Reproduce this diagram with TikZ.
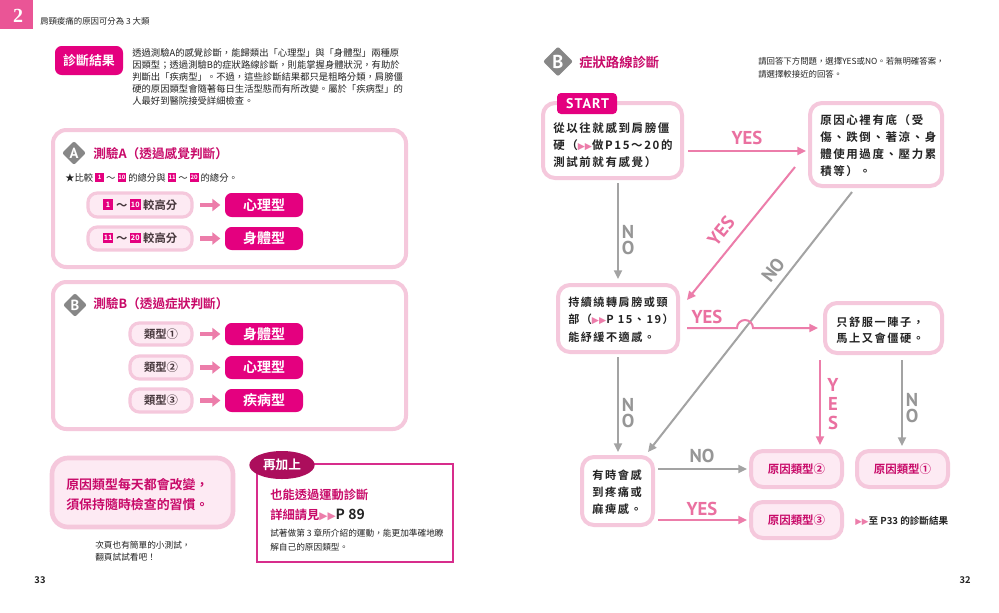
\documentclass[tikz,border=0pt]{standalone}
\usepackage{fontspec}
\usetikzlibrary{fit,calc,arrows.meta,shapes.geometric}
\IfFontExistsTF{Noto Sans CJK TC Bold}
 {\setmainfont{Noto Sans CJK TC}[BoldFont={Noto Sans CJK TC Bold}]
  \newfontfamily\flowfont{Noto Sans CJK TC}[BoldFont={Noto Sans CJK TC Bold},LetterSpace=14]}
 {\setmainfont{Noto Sans CJK TC}
  \newfontfamily\flowfont{Noto Sans CJK TC}[LetterSpace=14]}
\newfontfamily\ynfont{PT Sans}
\newfontfamily\startfont{PT Sans}[LetterSpace=8]
\newfontfamily\symfont{DejaVu Sans}
\newfontfamily\numfont{Liberation Serif}

\definecolor{mag}{RGB}{228,0,127}
\definecolor{tmag}{RGB}{200,10,105}
\definecolor{lpink}{RGB}{245,200,220}
\definecolor{pfill}{RGB}{253,234,243}
\definecolor{parrow}{RGB}{236,125,170}
\definecolor{ptext}{RGB}{234,112,160}
\definecolor{gline}{RGB}{163,163,163}
\definecolor{gtext}{RGB}{150,150,150}
\definecolor{hpink}{RGB}{234,85,150}
\definecolor{dmag}{RGB}{172,14,92}
\definecolor{bline}{RGB}{215,45,140}
\definecolor{dgray}{RGB}{135,135,135}
\definecolor{txt}{RGB}{35,35,35}
\definecolor{ptxt}{RGB}{70,55,60}

\newcommand\tri[1][7pt]{{\symfont\fontsize{#1}{#1}\selectfont\color{parrow}▶▶}}
\newcommand\nsq[3]{{\setlength\fboxsep{0pt}\raisebox{-0.06em}{\colorbox{mag}{\vbox to #1{\vss\hbox to #1{\hss\color{white}\bfseries\fontsize{#2}{#2}\selectfont #3\hss}\vss}}}}}

\tikzset{
 lbox/.style={draw=lpink, line width=3pt, rounded corners=10pt, fill=white, inner sep=0pt, outer sep=0pt},
 pill/.style={draw=lpink, line width=2.4pt, fill=pfill, rounded corners=7pt, inner sep=0pt, outer sep=0pt},
 pilltxt/.style={anchor=base, inner sep=0pt, font=\fontsize{8.5}{8.5}\selectfont\bfseries, text=ptxt},
 magbox/.style={fill=mag, rounded corners=5pt, inner sep=0pt, outer sep=0pt},
 magtxt/.style={anchor=base, inner sep=0pt, text=white, font=\fontsize{10.5}{10.5}\selectfont\bfseries},
 blk/.style={draw=parrow, line width=3.6pt, -{Triangle[length=6pt,width=9pt]}, shorten <=6pt, shorten >=3.5pt},
 icon/.style={diamond, fill=dgray, inner sep=0pt, rounded corners=1.5pt},
 icontxt/.style={anchor=base, inner sep=0pt, text=white, font=\ynfont\bfseries\fontsize{11}{11}\selectfont},
 fbox/.style={draw=lpink, line width=3pt, rounded corners=9pt, fill=white, inner sep=0pt, outer sep=0pt},
 rbox/.style={draw=lpink, line width=3pt, rounded corners=9pt, fill=pfill, inner sep=0pt, outer sep=0pt},
 rtxt/.style={anchor=base, inner sep=0pt, text=tmag, font=\fontsize{8.6}{8.6}\selectfont\bfseries},
 txtl/.style={anchor=base west, inner sep=0pt, align=left, text=txt},
 ya/.style={draw=parrow, line width=1.5pt, -{Triangle[length=6.5pt,width=6pt]}},
 na/.style={draw=gline, line width=1.5pt, -{Triangle[length=6.5pt,width=6pt]}},
 ylab/.style={text=ptext, font=\ynfont\bfseries\fontsize{14}{14}\selectfont, inner sep=0pt},
 nlab/.style={text=gtext, font=\ynfont\bfseries\fontsize{14}{14}\selectfont, inner sep=0pt},
 vlab/.style={align=center, font=\ynfont\bfseries\fontsize{14}{12}\selectfont, inner sep=0pt},
}

\begin{document}
\begin{tikzpicture}[x=0.75pt, y=-0.75pt]
\useasboundingbox (0,0) rectangle (999,612);
\fill[white] (0,0) rectangle (999,612);

% ---------- header ----------
\node[fill=hpink, fit={(0,0)(33,29)}, inner sep=0pt] (chap) {};
\node[text=white, inner sep=0pt, font=\numfont\bfseries\fontsize{15}{15}\selectfont] (chapnum) at (18,16) {2};
\node[txtl, font=\fontsize{6.3}{6.3}\selectfont] (hdr) at (40,24) {肩頸痠痛的原因可分為 3 大類};

% ---------- left page ----------
\node[magbox, fit={(55,46)(123,75)}] (diag) {};
\node[magtxt, font=\fontsize{9.7}{9.7}\selectfont\bfseries] (diagtxt) at (89,65.4) {診斷結果};
% multi-line text nodes: base anchor = baseline of the last line
\node[txtl, font=\fontsize{7}{9}\selectfont] (para) at (132,104) {透過測驗A的感覺診斷，能歸類出「心理型」與「身體型」兩種原\\因類型；透過測驗B的症狀路線診斷，則能掌握身體狀況，有助於\\判斷出「疾病型」。不過，這些診斷結果都只是粗略分類，肩膀僵\\硬的原因類型會隨著每日生活型態而有所改變。屬於「疾病型」的\\人最好到醫院接受詳細檢查。};

% box A
\node[lbox, fit={(53,130)(406,267)}] (boxA) {};
\node[icon, minimum size=18pt] (iconA) at (74,153) {};
\node[icontxt] (iconAtxt) at (74,158.5) {A};
\node[txtl, text=tmag, font=\fontsize{9.5}{9.5}\selectfont\bfseries] (titA) at (93,158.8) {測驗A（透過感覺判斷）};
\node[txtl, font=\fontsize{7}{7}\selectfont] (starA) at (65,181.5) {★比較 \nsq{6.5pt}{4.5}{1} ～ \nsq{6.5pt}{4.5}{10} 的總分與 \nsq{6.5pt}{4.5}{11} ～ \nsq{6.5pt}{4.5}{20} 的總分。};
\node[pill, fit={(88,193)(192,217)}] (pa1) {};
\node[pilltxt] (pa1txt) at (140,209.3) {\nsq{8pt}{5.5}{1} ～ \nsq{8pt}{5.5}{10} 較高分};
\node[magbox, fit={(225,193)(303,217)}] (ma1) {};
\node[magtxt] (ma1txt) at (264,210.3) {心理型};
\draw[blk] (pa1) -- (ma1);
\node[pill, fit={(88,227)(192,250)}] (pa2) {};
\node[pilltxt] (pa2txt) at (140,242.8) {\nsq{8pt}{5.5}{11} ～ \nsq{8pt}{5.5}{20} 較高分};
\node[magbox, fit={(225,227)(303,250)}] (ma2) {};
\node[magtxt] (ma2txt) at (264,243.8) {身體型};
\draw[blk] (pa2) -- (ma2);

% box B
\node[lbox, fit={(53,282)(406,429)}] (boxB) {};
\node[icon, minimum size=18pt] (iconB) at (75,305) {};
\node[icontxt] (iconBtxt) at (75,310.5) {B};
\node[txtl, text=tmag, font=\fontsize{9.5}{9.5}\selectfont\bfseries] (titB) at (93,308) {測驗B（透過症狀判斷）};
\node[pill, fit={(130,323)(192,345)}] (pb1) {};
\node[pilltxt] (pb1txt) at (161,338.3) {類型①};
\node[magbox, fit={(225,323)(303,345)}] (mb1) {};
\node[magtxt] (mb1txt) at (264,339.3) {身體型};
\draw[blk] (pb1) -- (mb1);
\node[pill, fit={(130,356)(192,379)}] (pb2) {};
\node[pilltxt] (pb2txt) at (161,371.8) {類型②};
\node[magbox, fit={(225,356)(303,379)}] (mb2) {};
\node[magtxt] (mb2txt) at (264,372.8) {心理型};
\draw[blk] (pb2) -- (mb2);
\node[pill, fit={(130,389)(192,412)}] (pb3) {};
\node[pilltxt] (pb3txt) at (161,404.8) {類型③};
\node[magbox, fit={(225,389)(303,412)}] (mb3) {};
\node[magtxt] (mb3txt) at (264,405.8) {疾病型};
\draw[blk] (pb3) -- (mb3);

% note box
\node[fit={(52,458)(233,527)}, draw=lpink, line width=3.5pt, fill=pfill, rounded corners=12pt, inner sep=0pt] (note) {};
\node[txtl, text=tmag, font=\fontsize{9.7}{15}\selectfont\bfseries] (notetxt) at (66,509) {原因類型每天都會改變，\\須保持隨時檢查的習慣。};
\node[txtl, font=\fontsize{6.5}{9}\selectfont] (next) at (95,560) {次頁也有簡單的小測試，\\翻頁試試看吧！};

% plus box
\node[draw=bline, line width=1.1pt, fit={(257,464)(453,562)}, inner sep=0pt] (plus) {};
\node[ellipse, fill=dmag, minimum width=49pt, minimum height=21pt, inner sep=0pt] (plustag) at (282,465) {};
\node[magtxt, font=\fontsize{9.5}{9.5}\selectfont\bfseries] (plustagtxt) at (282,469.8) {再加上};
\node[txtl, text=tmag, font=\fontsize{9.2}{9.2}\selectfont\bfseries] (plus1) at (270,499.7) {也能透過運動診斷};
\node[txtl, text=tmag, font=\fontsize{9.2}{9.2}\selectfont\bfseries] (plus2) at (270,519.7) {詳細請見\tri[8pt]{\color{txt}\fontsize{10.5}{10.5}\selectfont P 89}};
\node[txtl, font=\fontsize{6.5}{10.5}\selectfont] (plus3) at (270,550.5) {試著做第 3 章所介紹的運動，能更加準確地瞭\\解自己的原因類型。};

\node[text=txt, inner sep=0pt, font=\fontsize{7}{7}\selectfont\bfseries] (pg33) at (40,580) {33};

% ---------- right page ----------
\node[icon, minimum size=22.5pt] (iconR) at (558,61.5) {};
\node[icontxt, font=\ynfont\bfseries\fontsize{14}{14}\selectfont] (iconRtxt) at (558,68.5) {B};
\node[txtl, text=tmag, font=\fontsize{10}{10}\selectfont\bfseries] (flowtitle) at (579,67) {症狀路線診斷};
\node[txtl, font=\fontsize{6.3}{9.75}\selectfont] (instr) at (758,77.2) {請回答下方問題，選擇YES或NO。若無明確答案，\\請選擇較接近的回答。};

% flow boxes
\node[fbox, fit={(543,103)(682,178)}] (start) {};
\node[magbox, rounded corners=3pt, fit={(557,93)(617,114)}] (starttag) {};
\node[anchor=base, inner sep=0pt, text=white, font=\startfont\bfseries\fontsize{10.5}{10.5}\selectfont] (starttagtxt) at (587.5,108.4) {START};
\node[txtl, font=\flowfont\bfseries\fontsize{8.6}{12.75}\selectfont] (starttxt) at (553,166.4) {從以往就感到肩膀僵\\硬（\tri 做P15～20的\\測試前就有感覺）};

\node[fbox, fit={(810,103)(942,186)}] (n2) {};
\node[txtl, font=\flowfont\bfseries\fontsize{8.6}{12.75}\selectfont] (n2txt) at (820,175.4) {原因心裡有底（受\\傷、跌倒、著涼、身\\體使用過度、壓力累\\積等）。};

\node[fbox, fit={(558,285)(678,352)}] (n3) {};
\node[txtl, font=\flowfont\bfseries\fontsize{8.3}{13.1}\selectfont] (n3txt) at (568,341.1) {持續繞轉肩膀或頸\\部（\tri P 15、19）\\能紓緩不適感。};

\node[fbox, fit={(825,303)(942,353)}] (n4) {};
\node[txtl, font=\flowfont\bfseries\fontsize{8.4}{12}\selectfont] (n4txt) at (836,342.3) {只舒服一陣子，\\馬上又會僵硬。};

\node[fbox, fit={(582,457)(653,525)}] (n5) {};
\node[txtl, font=\flowfont\bfseries\fontsize{8.4}{12.75}\selectfont] (n5txt) at (592,513.2) {有時會感\\到疼痛或\\麻痺感。};

\node[rbox, fit={(751,451)(842,487)}] (r2) {};
\node[rtxt] (r2txt) at (796.5,473.4) {原因類型②};
\node[rbox, fit={(857,451)(948,487)}] (r1) {};
\node[rtxt] (r1txt) at (902.5,473.4) {原因類型①};
\node[rbox, fit={(751,502)(842,538)}] (r3) {};
\node[rtxt] (r3txt) at (796.5,524.4) {原因類型③};
\node[txtl, font=\fontsize{7.2}{7.2}\selectfont\bfseries] (goto) at (855,524.7) {\tri[6.5pt]至 P33 的診斷結果};

% connectors
\draw[na] ($(n2.south)+(-24,6)$) -- ($(n5.north east)+(-5,-5)$);
\draw[ya] ($(start.east)+(6,10.5)$) -- ($(n2.west)+(-4,6.5)$);
\draw[na] ($(start.south)+(5.5,5)$) -- ($(n3.north)+(0,-6)$);
\draw[ya] ($(n2.west)+(-15,22.5)$) -- ($(n3.east)+(9,-18.5)$);
\draw[ya] ($(n3.east)+(9,9.5)$) -- ($(n3.east)+(59,9.5)$) arc[start angle=180,end angle=0,radius=6pt] -- ($(n4.west)+(-7,0)$);
\draw[na] ($(n3.south)+(0,5)$) -- ($(n5.north)+(0.5,-5)$);
\draw[ya] ($(n4.south)+(-63.5,7)$) -- ($(r2.north)+(23.5,-6)$);
\draw[na] ($(n4.south)+(18.5,7)$) -- ($(r1.north)+(-0.5,-5)$);
\draw[na] ($(n5.east)+(5,-22)$) -- ($(r2.west)+(-4,0)$);
\draw[ya] ($(n5.east)+(5,29)$) -- ($(r3.west)+(-4,0)$);

% labels
\node[ylab] (yes1) at (747,138) {YES};
\node[nlab, vlab] (no1) at (628,240) {N\\O};
\node[ylab, rotate=51] (yes2) at (721,231) {YES};
\node[nlab, rotate=52] (no2) at (773,270) {NO};
\node[ylab] (yes3) at (707,317) {YES};
\node[nlab, vlab] (no3) at (628,413) {N\\O};
\node[ylab, vlab, font=\ynfont\bfseries\fontsize{14}{14.25}\selectfont] (yes4) at (833,404) {Y\\E\\S};
\node[nlab, vlab] (no4) at (912,408) {N\\O};
\node[nlab] (no5) at (702,456) {NO};
\node[ylab] (yes5) at (702,509) {YES};

\node[text=txt, inner sep=0pt, font=\fontsize{7}{7}\selectfont\bfseries] (pg32) at (965,580) {32};
\end{tikzpicture}
\end{document}
